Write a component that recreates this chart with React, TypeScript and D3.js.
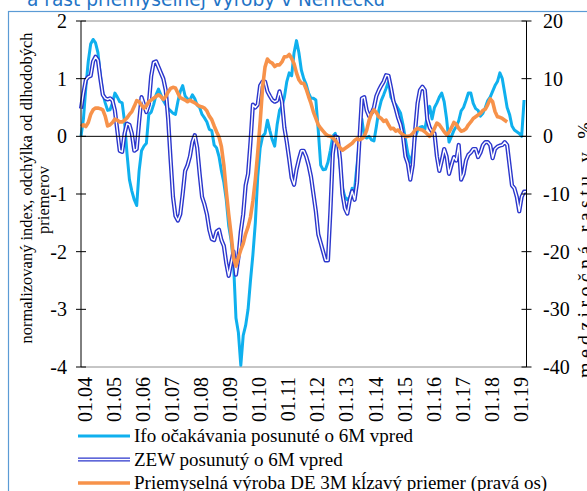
import { useMemo } from "react";
import { line as d3Line, scaleLinear } from "d3";

const tickLabels = [
  "01.04", "01.05", "01.06", "01.07", "01.08", "01.09", "01.10", "01.11",
  "01.12", "01.13", "01.14", "01.15", "01.16", "01.17", "01.18", "01.19",
];
const leftTicks = [2, 1, 0, -1, -2, -3, -4];
const rightTicks = [20, 10, 0, -10, -20, -30, -40];

// Ifo expectations, shifted 6M ahead (left axis), monthly from 01.04
const ifoExpectations = [
  0.0, 0.3, 0.85, 1.3, 1.6, 1.68, 1.62, 1.45, 1.05, 0.75,
  0.58, 0.45, 0.46, 0.58, 0.75, 0.68, 0.6, 0.58, 0.25, -0.3,
  -0.75, -0.95, -1.1, -1.2, -0.6, -0.25, -0.17, -0.12, 0.38, 0.42,
  0.55, 0.72, 0.82, 0.72, 0.62, 0.55, 0.48, 0.44, 0.4, 0.38,
  0.6, 0.78, 0.88, 0.7, 0.65, 0.63, 0.72, 0.65, 0.54, 0.5,
  0.38, 0.32, 0.25, 0.12, 0.1, -0.15, -0.2, -0.35, -0.6, -0.8,
  -1.1, -1.55, -1.8, -2.2, -3.15, -3.4, -3.97, -3.45, -3.28, -3.0,
  -2.5, -2.05, -1.5, -0.7, -0.2, 0.0, 0.05, 0.28, 0.1, -0.06,
  -0.17, 0.2, 0.45, 0.52, 0.68, 0.95, 1.1, 1.05, 1.45, 1.66,
  1.45, 1.15, 1.0, 0.9, 0.75, 0.66, 0.66, 0.63, 0.1, -0.5,
  -0.58, -0.57, -0.45, -0.24, 0.0, 0.05, -0.1, -0.5, -0.9, -1.05,
  -1.1, -1.06, -0.9, -0.92, -0.5, -0.1, 0.3, 0.0, -0.03, 0.0,
  -0.06, -0.08, 0.17, 0.45, 0.62, 0.72, 0.83, 0.95, 0.68, 0.6,
  0.55, 0.48, 0.4, 0.2, -0.05, -0.3, -0.45, -0.3, -0.02, 0.1,
  0.16, 0.17, 0.12, 0.35, 0.52, 0.3, 0.5, 0.58, 0.68, 0.75,
  0.6, 0.3, -0.1, 0.0, 0.1, 0.17, 0.27, 0.44, 0.5, 0.62,
  0.75, 0.75, 0.57, 0.48, 0.45, 0.35, 0.4, 0.5, 0.62, 0.68,
  0.78, 0.88, 0.95, 1.1, 1.0, 0.75, 0.5, 0.38, 0.18, 0.11,
  0.08, 0.05, 0.0, 0.63,
];

// ZEW, shifted 6M ahead (left axis)
const zewShifted = [
  0.48, 0.75, 0.98, 1.03, 1.05, 1.3, 1.38, 1.32, 1.0, 0.72,
  0.66, 0.64, 0.66, 0.62, 0.45, 0.1, -0.25, -0.27, 0.05, 0.22,
  0.2, 0.05, -0.25, -0.22, 0.25, 0.68, 0.55, 0.42, 0.55, 1.05,
  1.28, 1.3, 1.2, 1.1, 1.0, 0.8, 0.3, -0.4, -1.05, -1.38,
  -1.46, -1.35, -1.0, -0.6, -0.5, -0.35, -0.1, 0.02, -0.2, -0.65,
  -1.05, -1.18, -1.35, -1.62, -1.78, -1.8, -1.65, -1.62, -1.8, -1.9,
  -2.2, -2.42, -2.2, -2.0, -2.4, -2.1, -1.65, -1.35, -0.85, -0.65,
  -0.1, 0.55, 0.5, 0.55, 0.88, 0.95, 0.95, 0.78, 0.7, 0.63,
  0.6, 0.62, 0.78, 0.6, 0.15, -0.1, -0.4, -0.72, -0.84, -0.58,
  -0.4, -0.25, -0.25, -0.35, -0.5, -0.7, -1.0, -1.3, -1.7, -1.85,
  -2.0, -2.15, -2.15, -1.3, -0.3, 0.0, -0.02, -0.4, -1.0, -1.25,
  -1.34, -1.1, -0.95, -1.1, -0.8, -0.06, 0.66, 0.68, 0.45, 0.35,
  0.4, 0.5, 0.7, 0.8, 0.88, 0.95, 1.06, 1.05, 0.85, 0.62,
  0.48, 0.32, 0.2, 0.0, -0.35, -0.47, -0.75, -0.5, 0.1, 0.57,
  0.8, 0.86, 0.8, 0.3, 0.15, 0.08, 0.05, -0.35, -0.6, -0.42,
  -0.22, -0.35, -0.65, -0.5, -0.36, -0.42, -0.15, -0.75, -0.65, -0.42,
  -0.32, -0.28, -0.22, -0.22, -0.36, -0.28, -0.15, -0.1, -0.1, -0.15,
  -0.38, -0.22, -0.18, -0.16, -0.15, -0.1, -0.15, -0.5, -0.85, -0.9,
  -1.05, -1.3, -1.05, -0.96, -0.96,
];

// Industrial production DE, 3M moving average, % y/y (right axis)
const industrialProduction = [
  1.7, 2.0, 1.7, 2.4, 3.8, 4.6, 4.9, 4.9, 4.8, 4.6,
  3.5, 1.8, 2.0, 2.4, 3.0, 2.8, 2.5, 2.5, 2.8, 3.2,
  3.8, 4.3, 5.2, 6.2, 6.0, 5.4, 4.9, 5.3, 6.0, 6.3,
  6.6, 6.9, 7.2, 6.9, 6.4, 6.9, 7.7, 8.3, 8.5, 8.4,
  7.5, 6.7, 6.5, 6.3, 6.0, 6.3, 6.0, 5.8, 5.5, 5.2,
  5.1, 4.9, 4.4, 3.5, 2.9, 1.8, 0.8, -0.1, -1.8, -5.0,
  -9.5, -13.5, -17.0, -21.0, -22.5, -21.0, -19.7, -18.6, -16.9, -15.7,
  -14.0, -11.2, -7.5, -2.8, 2.5, 8.5, 12.0, 13.4, 12.9, 12.7,
  12.1, 12.4, 12.4, 12.9, 13.8, 13.8, 14.2, 13.5, 12.6, 11.0,
  9.8, 9.2, 9.2, 8.2, 6.9, 5.7, 4.2, 3.1, 2.0, 1.4,
  0.9, 0.4, 0.1, 0.0, -0.3, -0.7, -1.3, -2.0, -2.4, -2.1,
  -1.8, -1.5, -1.2, -0.7, -0.4, -0.6, -0.4, 0.0, 1.1, 2.8,
  4.0, 4.6, 4.1, 3.4, 3.1, 2.6, 2.8, 2.0, 1.3, 1.4,
  0.9, 1.1, 0.6, 0.3, 0.0, 0.0, 0.1, 0.5, 1.1, 1.4,
  1.2, 1.1, 0.8, 0.4, 0.0, 0.5, 1.4, 2.3, 2.0, 1.4,
  0.8, 0.3, 0.7, 1.5, 2.4, 2.1, 1.4, 0.9, 1.0, 1.3,
  2.0, 2.5, 3.1, 3.4, 3.7, 4.0, 4.5, 4.7, 5.5, 6.5,
  6.0, 4.3, 3.4, 3.3, 3.1, 2.8, 2.5,
];

const legendItems = [
  "Ifo očakávania posunuté o 6M vpred",
  "ZEW posunutý o 6M vpred",
  "Priemyselná výroba DE 3M kĺzavý priemer (pravá os)",
];

const CYAN = "#0fb0ee";
const NAVY = "#2b36cc";
const ORANGE = "#f7924a";
const SERIF = "'Liberation Serif', 'Times New Roman', serif";

export default function App() {
  const width = 587;
  const height = 491;
  const plot = { left: 81, right: 526.5, top: 21, bottom: 367 };

  const { x, yLeft, yRight, ifoPath, zewPath, ipPath } = useMemo(() => {
    const x = scaleLinear().domain([0, 184]).range([plot.left, plot.right]);
    const yLeft = scaleLinear().domain([-4, 2]).range([plot.bottom, plot.top]);
    const yRight = scaleLinear().domain([-40, 20]).range([plot.bottom, plot.top]);
    const leftLine = d3Line<number>()
      .x((_, i) => x(i))
      .y((d) => yLeft(d));
    const rightLine = d3Line<number>()
      .x((_, i) => x(i))
      .y((d) => yRight(d));
    return {
      x,
      yLeft,
      yRight,
      ifoPath: leftLine(ifoExpectations) ?? "",
      zewPath: leftLine(zewShifted) ?? "",
      ipPath: rightLine(industrialProduction) ?? "",
    };
  }, []);

  return (
    <svg
      width={width}
      height={height}
      viewBox={`0 0 ${width} ${height}`}
      style={{ position: "absolute", left: 0, top: 0, background: "#fff" }}
    >
      <rect x={0} y={0} width={width} height={height} fill="#fff" />
      {/* title, cut at the top */}
      <text
        x={27}
        y={6}
        fill="#1f74c6"
        fontFamily="'DejaVu Sans', Verdana, sans-serif"
        fontSize={19}
        textLength={358}
        lengthAdjust="spacingAndGlyphs"
      >
        a rast priemyselnej výroby v Nemecku
      </text>
      <rect
        x={8.5}
        y={11.5}
        width={620}
        height={520}
        fill="none"
        stroke="#5b9bd5"
        strokeWidth={1.2}
      />

      {/* plot frame */}
      <line x1={plot.left} x2={plot.right} y1={plot.top} y2={plot.top} stroke="#8c8c8c" />
      <line x1={plot.left} x2={plot.right} y1={plot.bottom} y2={plot.bottom} stroke="#8c8c8c" />

      {/* series */}
      <path d={ifoPath} fill="none" stroke={CYAN} strokeWidth={3} strokeLinejoin="round" />
      <path d={zewPath} fill="none" stroke={NAVY} strokeWidth={4.2} strokeLinejoin="round" />
      <path d={zewPath} fill="none" stroke="#fff" strokeWidth={1.4} strokeLinejoin="round" />
      <path d={ipPath} fill="none" stroke={ORANGE} strokeWidth={3.6} strokeLinejoin="round" />

      {/* zero line */}
      <line x1={plot.left} x2={plot.right} y1={yLeft(0)} y2={yLeft(0)} stroke="#000" />

      {/* left axis */}
      <line x1={plot.left} x2={plot.left} y1={plot.top} y2={plot.bottom} stroke="#000" />
      {leftTicks.map((t) => (
        <g key={`l${t}`}>
          <line x1={plot.left - 5} x2={plot.left + 5} y1={yLeft(t)} y2={yLeft(t)} stroke="#000" />
          <text
            x={67}
            y={yLeft(t)}
            dy="0.35em"
            textAnchor="end"
            fontFamily={SERIF}
            fontSize={20}
            fill="#000"
          >
            {t}
          </text>
        </g>
      ))}

      {/* right axis */}
      <line x1={plot.right} x2={plot.right} y1={plot.top} y2={plot.bottom} stroke="#000" />
      {rightTicks.map((t) => (
        <g key={`r${t}`}>
          <line x1={plot.right - 5} x2={plot.right + 5} y1={yRight(t)} y2={yRight(t)} stroke="#000" />
          <text
            x={543}
            y={yRight(t)}
            dy="0.35em"
            textAnchor="start"
            fontFamily={SERIF}
            fontSize={20}
            fill="#000"
          >
            {t}
          </text>
        </g>
      ))}

      {/* x labels */}
      {tickLabels.map((label, k) => (
        <text
          key={label}
          transform={`translate(${x(k * 12) + 11}, 377) rotate(-90)`}
          textAnchor="end"
          fontFamily={SERIF}
          fontSize={20}
          fill="#000"
        >
          {label}
        </text>
      ))}

      {/* axis titles */}
      <text
        transform="translate(32, 188) rotate(-90)"
        textAnchor="middle"
        fontFamily={SERIF}
        fontSize={16.5}
        fill="#000"
      >
        normalizovaný index, odchýlka od dlhodobých
      </text>
      <text
        transform="translate(49, 200) rotate(-90)"
        textAnchor="middle"
        fontFamily={SERIF}
        fontSize={16.5}
        fill="#000"
      >
        priemerov
      </text>
      <text
        transform="translate(592, 250) rotate(-90)"
        textAnchor="middle"
        fontFamily={SERIF}
        fontSize={20}
        textLength={256}
        lengthAdjust="spacing"
        fill="#000"
      >
        medziročná rastu v %
      </text>

      {/* legend */}
      {legendItems.map((label, k) => {
        const ly = 436 + k * 23.5;
        return (
          <g key={label}>
            {k === 0 && <line x1={78} x2={130} y1={ly} y2={ly} stroke={CYAN} strokeWidth={3} />}
            {k === 1 && (
              <>
                <line x1={78} x2={130} y1={ly} y2={ly} stroke={NAVY} strokeWidth={4.2} />
                <line x1={78} x2={130} y1={ly} y2={ly} stroke="#fff" strokeWidth={1.4} />
              </>
            )}
            {k === 2 && <line x1={78} x2={130} y1={ly} y2={ly} stroke={ORANGE} strokeWidth={3.6} />}
            <text x={134} y={ly + 6} fontFamily={SERIF} fontSize={19} fill="#000">
              {label}
            </text>
          </g>
        );
      })}
    </svg>
  );
}
